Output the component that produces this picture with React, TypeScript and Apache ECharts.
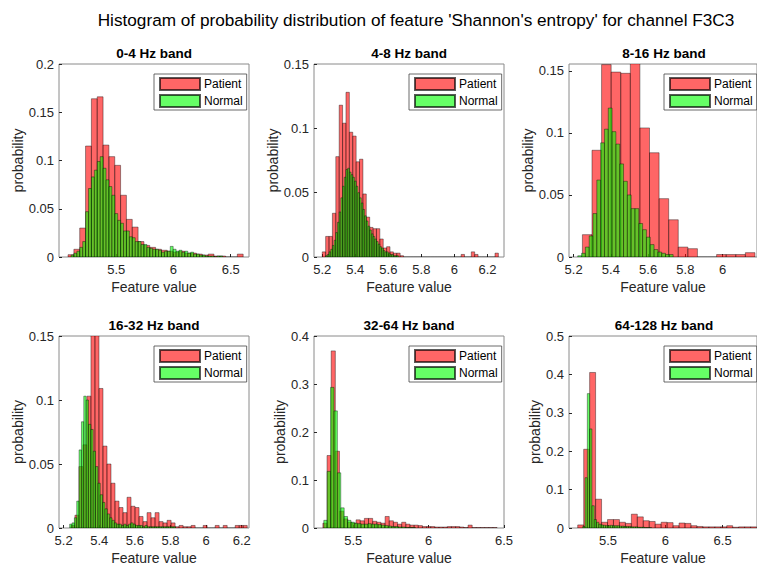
import React, { useEffect, useRef } from 'react';
import * as echarts from 'echarts';

// ---------------- data ----------------
const MAIN_TITLE = "Histogram of probability distribution of feature 'Shannon's entropy' for channel F3C3";
const BAND_TITLES = ['0-4 Hz band', '4-8 Hz band', '8-16 Hz band', '16-32 Hz band', '32-64 Hz band', '64-128 Hz band'];
const SERIES_NAMES = ['Patient', 'Normal'];
const X_LABEL = 'Feature value';
const Y_LABEL = 'probability';

const X_MIN = [5.0, 5.15, 5.175, 5.174, 5.24, 5.16];
const X_MAX = [6.66, 6.3, 6.185, 6.241, 6.5, 6.8];
const X_TICKS = [
  [5.5, 6, 6.5],
  [5.2, 5.4, 5.6, 5.8, 6, 6.2],
  [5.2, 5.4, 5.6, 5.8, 6],
  [5.2, 5.4, 5.6, 5.8, 6, 6.2],
  [5.5, 6, 6.5],
  [5.5, 6, 6.5],
];
const Y_MAX = [0.2, 0.15, 0.1555, 0.15, 0.4, 0.5];
const Y_TICKS = [
  [0, 0.05, 0.1, 0.15, 0.2],
  [0, 0.05, 0.1, 0.15],
  [0, 0.05, 0.1, 0.15],
  [0, 0.05, 0.1, 0.15],
  [0, 0.1, 0.2, 0.3, 0.4],
  [0, 0.1, 0.2, 0.3, 0.4, 0.5],
];

// bin edges: first edge and bin width per band
const PATIENT_BIN_START = [5.079, 5.2, 5.247, 5.241, 5.299, 5.236];
const PATIENT_BIN_WIDTH = [0.051, 0.0205, 0.0515, 0.0225, 0.0275, 0.052];
const NORMAL_BIN_START = [5.105, 5.2205, 5.222, 5.234, 5.305, 5.28];
const NORMAL_BIN_WIDTH = [0.0255, 0.01025, 0.0205, 0.0132, 0.0225, 0.02];

// probabilities per bin
const PATIENT_0_4 = [0.0024, 0.008, 0.03, 0.115, 0.164, 0.166, 0.116, 0.104, 0.095, 0.064, 0.039, 0.031, 0.016, 0.012, 0.01, 0.008, 0.007, 0.006, 0.005, 0.006, 0.004, 0.004, 0.003, 0.002, 0.003, 0.001, 0.001, 0, 0, 0.003];
const NORMAL_0_4 = [0.002, 0.004, 0.006, 0.01, 0.016, 0.047, 0.071, 0.083, 0.09, 0.099, 0.104, 0.092, 0.08, 0.073, 0.064, 0.045, 0.038, 0.035, 0.027, 0.027, 0.021, 0.02, 0.016, 0.016, 0.013, 0.013, 0.01, 0.009, 0.008, 0.008, 0.007, 0.005, 0.006, 0.006, 0.011, 0.008, 0.006, 0.007, 0.005, 0.006, 0.004, 0.005, 0.003, 0.003, 0.002, 0.002, 0.001, 0.001, 0.001, 0, 0.001, 0.001];

const PATIENT_4_8 = [0.004, 0.016, 0.016, 0.034, 0.078, 0.118, 0.104, 0.128, 0.097, 0.094, 0.074, 0.076, 0.049, 0.031, 0.023, 0.022, 0.022, 0.014, 0.007, 0.008, 0.004, 0.003, 0.003, 0.001, 0, 0, 0, 0, 0, 0, 0, 0, 0, 0, 0, 0, 0, 0, 0, 0, 0, 0.002, 0, 0, 0.004, 0.002, 0, 0, 0, 0, 0, 0.003];
const NORMAL_4_8 = [0.001, 0.002, 0.004, 0.006, 0.009, 0.013, 0.019, 0.027, 0.035, 0.046, 0.055, 0.062, 0.068, 0.069, 0.066, 0.064, 0.062, 0.059, 0.055, 0.05, 0.046, 0.042, 0.037, 0.032, 0.028, 0.024, 0.021, 0.018, 0.016, 0.014, 0.012, 0.01, 0.008, 0.007, 0.005, 0.004, 0.004, 0.003, 0.002, 0.002, 0.001, 0.001, 0.001];

const PATIENT_8_16 = [0.018, 0.086, 0.155, 0.149, 0.148, 0.16, 0.104, 0.084, 0.047, 0.03, 0.008, 0.0067, 0, 0, 0.002, 0.002, 0.002, 0.0035];
const NORMAL_8_16 = [0.001, 0.003, 0.008, 0.017, 0.035, 0.062, 0.092, 0.103, 0.12, 0.101, 0.091, 0.075, 0.061, 0.05, 0.039, 0.039, 0.027, 0.022, 0.016, 0.01, 0.006, 0.004, 0.003, 0.002, 0.002];

const PATIENT_16_32 = [0.002, 0.01, 0.048, 0.065, 0.103, 0.16, 0.16, 0.109, 0.064, 0.05, 0.035, 0.021, 0.016, 0.012, 0.024, 0.017, 0.016, 0.009, 0.005, 0.012, 0.008, 0.012, 0.005, 0.004, 0.006, 0.004, 0.001, 0.002, 0.001, 0.001, 0.002, 0, 0, 0.002, 0, 0, 0.002, 0, 0.002, 0, 0, 0.002, 0.002, 0.002];
const NORMAL_16_32 = [0.003, 0.004, 0.008, 0.021, 0.061, 0.083, 0.103, 0.1, 0.081, 0.077, 0.06, 0.048, 0.035, 0.026, 0.02, 0.015, 0.011, 0.008, 0.006, 0.004, 0.003, 0.003, 0.002, 0.003, 0.002, 0.003, 0.004, 0.003, 0.002, 0.002, 0.002, 0.001, 0.002, 0.001, 0.001, 0.001, 0.001, 0.001, 0.001, 0.001, 0.001, 0.001, 0.001, 0.001, 0.001];

const PATIENT_32_64 = [0.01, 0.151, 0.369, 0.16, 0.035, 0.019, 0.012, 0.01, 0.017, 0.015, 0.02, 0.02, 0.014, 0.012, 0.01, 0.024, 0.015, 0.012, 0.008, 0.012, 0.008, 0.006, 0.006, 0.005, 0.003, 0.003, 0.003, 0.002, 0.002, 0.002, 0.003, 0.003, 0.003, 0.002, 0.001, 0.006, 0.001, 0.001, 0.001, 0.001, 0.001, 0.001];
const NORMAL_32_64 = [0.016, 0.118, 0.293, 0.244, 0.115, 0.042, 0.024, 0.016, 0.012, 0.01, 0.009, 0.008, 0.008, 0.009, 0.008, 0.008, 0.007, 0.006, 0.005, 0.004, 0.003, 0.003, 0.002, 0.002, 0.001, 0.001, 0.001];

const PATIENT_64_128 = [0.008, 0.205, 0.405, 0.075, 0.015, 0.022, 0.022, 0.015, 0.012, 0.036, 0.029, 0.019, 0.017, 0.01, 0.015, 0.014, 0.006, 0.013, 0.012, 0.006, 0.004, 0.003, 0.003, 0.003, 0.003, 0.006, 0.002, 0.003, 0.003, 0.003];
const NORMAL_64_128 = [0.004, 0.131, 0.35, 0.258, 0.058, 0.022, 0.015, 0.01, 0.008, 0.007, 0.006, 0.006, 0.007, 0.006, 0.006, 0.006, 0.005, 0.005, 0.004, 0.004, 0.004, 0.003, 0.003, 0.003, 0.002, 0.002, 0.002, 0.001, 0.001, 0.001];

const PATIENT_PROB = [PATIENT_0_4, PATIENT_4_8, PATIENT_8_16, PATIENT_16_32, PATIENT_32_64, PATIENT_64_128];
const NORMAL_PROB = [NORMAL_0_4, NORMAL_4_8, NORMAL_8_16, NORMAL_16_32, NORMAL_32_64, NORMAL_64_128];

// ---------------- layout / style ----------------
const W = 757;
const H = 566;
const GRID_LEFT = [59, 314, 569];
const GRID_TOP = [64, 336];
const GRID_W = 190;
const GRID_H = 193;
const Y_NAME_GAP = [34, 34, 33, 34, 26, 27];
const FONT = '"Liberation Sans", Arial, Helvetica, sans-serif';
const AX_COLOR = '#262626';
const FILL = ['rgba(255,0,0,0.6)', 'rgba(0,255,0,0.6)'];
const EDGE = 'rgba(0,0,0,0.65)';

function binsToData(start: number, width: number, values: number[]) {
  return values.map((v, i) => [start + i * width, start + (i + 1) * width, v]);
}

const renderBar = (params: any, api: any) => {
  const x0 = api.value(0);
  const x1 = api.value(1);
  const v = api.value(2);
  const a = api.coord([x0, v]);
  const b = api.coord([x1, 0]);
  return {
    type: 'rect',
    shape: { x: a[0], y: a[1], width: b[0] - a[0], height: b[1] - a[1] },
    style: { fill: FILL[params.seriesIndex % 2], stroke: EDGE, lineWidth: 0.6 },
  };
};

function buildOption() {
  const grids: any[] = [];
  const xAxes: any[] = [];
  const yAxes: any[] = [];
  const series: any[] = [];
  const legends: any[] = [];
  const graphics: any[] = [];

  graphics.push({
    type: 'text',
    x: 416,
    y: 20,
    style: {
      text: MAIN_TITLE,
      font: `17.2px ${FONT}`,
      fill: '#000',
      align: 'center',
      verticalAlign: 'middle',
      textAlign: 'center',
      textVerticalAlign: 'middle',
    },
  });

  for (let i = 0; i < 6; i++) {
    const col = i % 3;
    const row = Math.floor(i / 3);
    const left = GRID_LEFT[col];
    const top = GRID_TOP[row];
    grids.push({
      left,
      top,
      width: GRID_W,
      height: GRID_H,
      show: true,
      borderColor: '#8a8a8a',
      borderWidth: 1,
      backgroundColor: 'transparent',
    });
    xAxes.push({
      type: 'value',
      gridIndex: i,
      min: X_MIN[i],
      max: X_MAX[i],
      name: X_LABEL,
      nameLocation: 'middle',
      nameGap: 23,
      nameTextStyle: { fontFamily: FONT, fontSize: 14, color: AX_COLOR },
      axisLine: { show: false },
      axisTick: { show: true, inside: true, length: 3, customValues: X_TICKS[i], lineStyle: { color: AX_COLOR } },
      axisLabel: { customValues: X_TICKS[i], fontFamily: FONT, fontSize: 13, color: AX_COLOR, margin: 6 },
      splitLine: { show: false },
    });
    yAxes.push({
      type: 'value',
      gridIndex: i,
      min: 0,
      max: Y_MAX[i],
      name: Y_LABEL,
      nameLocation: 'middle',
      nameGap: Y_NAME_GAP[i],
      nameTextStyle: { fontFamily: FONT, fontSize: 14, color: AX_COLOR },
      axisLine: { show: false },
      axisTick: { show: true, inside: true, length: 3, customValues: Y_TICKS[i], lineStyle: { color: AX_COLOR } },
      axisLabel: { customValues: Y_TICKS[i], fontFamily: FONT, fontSize: 13, color: AX_COLOR, margin: 5 },
      splitLine: { show: false },
    });
    series.push({
      type: 'custom',
      name: SERIES_NAMES[0],
      xAxisIndex: i,
      yAxisIndex: i,
      clip: true,
      renderItem: renderBar,
      itemStyle: { color: FILL[0], borderColor: EDGE, borderWidth: 0.6 },
      encode: { x: [0, 1], y: 2 },
      data: binsToData(PATIENT_BIN_START[i], PATIENT_BIN_WIDTH[i], PATIENT_PROB[i]),
    });
    series.push({
      type: 'custom',
      name: SERIES_NAMES[1],
      xAxisIndex: i,
      yAxisIndex: i,
      clip: true,
      renderItem: renderBar,
      itemStyle: { color: FILL[1], borderColor: EDGE, borderWidth: 0.6 },
      encode: { x: [0, 1], y: 2 },
      data: binsToData(NORMAL_BIN_START[i], NORMAL_BIN_WIDTH[i], NORMAL_PROB[i]),
    });
    legends.push({
      left: left + 95,
      top: top + 10,
      orient: 'vertical',
      icon: 'rect',
      itemWidth: 40,
      itemHeight: 12,
      itemGap: 3,
      padding: [3, 4, 2, 5],
      backgroundColor: '#fff',
      borderColor: '#444',
      borderWidth: 0.8,
      selectedMode: false,
      textStyle: { fontFamily: FONT, fontSize: 12, color: '#000', padding: [0, 0, 0, -1] },
      data: SERIES_NAMES,
    });
    graphics.push({
      type: 'text',
      x: left + GRID_W / 2,
      y: top - 11,
      style: {
        text: BAND_TITLES[i],
        font: `bold 13.5px ${FONT}`,
        fill: '#000',
        align: 'center',
        verticalAlign: 'middle',
        textAlign: 'center',
        textVerticalAlign: 'middle',
      },
    });
  }

  return {
    animation: false,
    backgroundColor: '#fff',
    grid: grids,
    xAxis: xAxes,
    yAxis: yAxes,
    legend: legends,
    series,
    graphic: graphics,
  };
}

export default function App() {
  const ref = useRef<HTMLDivElement>(null);
  useEffect(() => {
    if (!ref.current) return;
    const chart = echarts.init(ref.current, undefined, { renderer: 'svg' });
    chart.setOption(buildOption() as any);
    return () => chart.dispose();
  }, []);
  return (
    <div
      ref={ref}
      style={{ position: 'fixed', left: 0, top: 0, width: W, height: H, background: '#fff' }}
    />
  );
}
